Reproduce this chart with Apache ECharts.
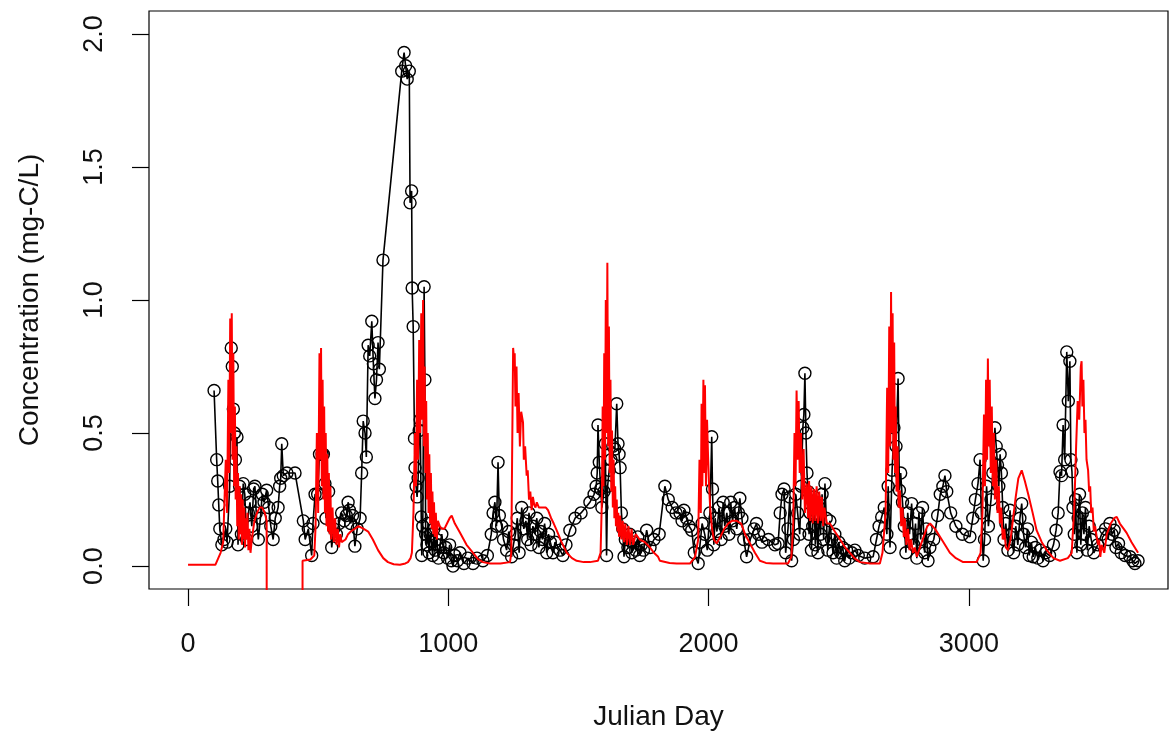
<!DOCTYPE html>
<html lang="en">
<head>
<meta charset="UTF-8">
<title>Concentration</title>
<script src="https://cdn.jsdelivr.net/npm/echarts@6/dist/echarts.min.js"></script>
<style>
  html, body { margin: 0; padding: 0; background: #fff; }
  #container { width: 1171px; height: 734px; }
</style>
</head>
<body>
<div id="container"></div>
<script>
// observed (black circles)
const obsDay = [
  100, 110, 114, 118, 122, 130, 138, 145, 150, 160, 166, 170, 174, 178, 182, 188, 192, 198, 205, 212,
  218, 225, 232, 238, 245, 252, 257, 262, 270, 278, 285, 292, 302, 310, 318, 327, 335, 346, 352, 356,
  360, 366, 380, 411, 443, 450, 462, 475, 480, 488, 498, 505, 515, 520, 526, 530, 540, 552, 560, 570,
  580, 590, 600, 608, 615, 620, 625, 632, 641, 650, 661, 667, 673, 680, 685, 692, 698, 706, 712, 718,
  724, 730, 735, 749, 821, 830, 836, 842, 850, 853, 859, 861, 865, 870, 872, 876, 880, 884, 888, 892,
  896, 898, 902, 907, 910, 913, 918, 922, 926, 930, 935, 940, 945, 950, 955, 962, 968, 975, 982, 990,
  997, 1005, 1012, 1018, 1025, 1035, 1045, 1060, 1075, 1095, 1110, 1133, 1150, 1165, 1172, 1179, 1185, 1191, 1196, 1205,
  1212, 1224, 1232, 1243, 1250, 1258, 1265, 1272, 1282, 1290, 1298, 1305, 1310, 1318, 1325, 1332, 1340, 1348, 1355, 1362,
  1370, 1378, 1385, 1392, 1402, 1410, 1429, 1440, 1452, 1467, 1487, 1510, 1544, 1560, 1568, 1572, 1575, 1580, 1585, 1590,
  1598, 1603, 1608, 1612, 1618, 1625, 1632, 1640, 1647, 1652, 1656, 1660, 1665, 1670, 1675, 1680, 1690, 1697, 1705, 1712,
  1720, 1728, 1735, 1742, 1750, 1762, 1775, 1790, 1810, 1832, 1845, 1860, 1875, 1890, 1898, 1905, 1915, 1925, 1935, 1945,
  1960, 1968, 1975, 1985, 1995, 2005, 2012, 2015, 2020, 2025, 2032, 2040, 2048, 2056, 2062, 2070, 2078, 2085, 2092, 2100,
  2108, 2115, 2120, 2128, 2135, 2146, 2160, 2175, 2184, 2192, 2205, 2230, 2255, 2267, 2275, 2282, 2290, 2296, 2305, 2312,
  2319, 2326, 2335, 2342, 2350, 2356, 2362, 2366, 2370, 2374, 2378, 2382, 2386, 2390, 2395, 2400, 2405, 2410, 2415, 2420,
  2425, 2430, 2436, 2442, 2447, 2452, 2458, 2466, 2472, 2478, 2485, 2492, 2500, 2507, 2515, 2523, 2530, 2540, 2550, 2562,
  2575, 2600, 2632, 2645, 2655, 2665, 2675, 2685, 2690, 2697, 2705, 2712, 2720, 2728, 2733, 2738, 2745, 2752, 2758, 2765,
  2772, 2780, 2788, 2795, 2800, 2808, 2815, 2822, 2830, 2836, 2843, 2850, 2865, 2880, 2890, 2900, 2908, 2915, 2930, 2950,
  2975, 3004, 3015, 3025, 3035, 3043, 3048, 3055, 3060, 3068, 3075, 3085, 3092, 3100, 3105, 3110, 3115, 3120, 3125, 3130,
  3135, 3142, 3150, 3158, 3165, 3172, 3180, 3188, 3196, 3203, 3210, 3218, 3225, 3232, 3240, 3247, 3255, 3265, 3275, 3285,
  3295, 3310, 3325, 3335, 3343, 3350, 3356, 3362, 3368, 3376, 3382, 3388, 3392, 3396, 3400, 3405, 3410, 3415, 3420, 3425,
  3430, 3436, 3442, 3448, 3455, 3462, 3470, 3480, 3495, 3510, 3525, 3535, 3542, 3550, 3558, 3565, 3575, 3585, 3600, 3619,
  3630, 3638, 3650
];
const obsConc = [
  0.66, 0.40, 0.32, 0.23, 0.14, 0.08, 0.10, 0.14, 0.09, 0.30, 0.82, 0.75, 0.59, 0.50, 0.40, 0.485, 0.08, 0.30, 0.12, 0.31,
  0.27, 0.10, 0.20, 0.24, 0.15, 0.29, 0.30, 0.20, 0.10, 0.18, 0.27, 0.24, 0.285, 0.22, 0.15, 0.10, 0.18, 0.22, 0.30, 0.33,
  0.46, 0.34, 0.35, 0.35, 0.17, 0.10, 0.14, 0.04, 0.16, 0.27, 0.27, 0.42, 0.42, 0.42, 0.31, 0.18, 0.28, 0.07, 0.14, 0.12,
  0.16, 0.20, 0.17, 0.19, 0.24, 0.21, 0.16, 0.19, 0.075, 0.14, 0.18, 0.35, 0.545, 0.50, 0.41, 0.83, 0.79, 0.92, 0.76, 0.63,
  0.70, 0.84, 0.74, 1.15, 1.86, 1.93, 1.88, 1.83, 1.86, 1.365, 1.41, 1.045, 0.90, 0.48, 0.37, 0.30, 0.26, 0.33, 0.51, 0.55,
  0.185, 0.04, 0.15, 1.05, 0.70, 0.12, 0.08, 0.16, 0.05, 0.12, 0.09, 0.04, 0.14, 0.06, 0.10, 0.03, 0.08, 0.12, 0.05, 0.07,
  0.03, 0.08, 0.02, 0.00, 0.04, 0.02, 0.05, 0.01, 0.03, 0.01, 0.03, 0.02, 0.04, 0.12, 0.20, 0.24, 0.15, 0.39, 0.19, 0.15,
  0.10, 0.06, 0.13, 0.035, 0.08, 0.12, 0.18, 0.05, 0.22, 0.14, 0.17, 0.10, 0.20, 0.08, 0.15, 0.12, 0.18, 0.07, 0.13, 0.10,
  0.16, 0.05, 0.12, 0.09, 0.05, 0.09, 0.06, 0.04, 0.08, 0.135, 0.18, 0.20, 0.24, 0.27, 0.30, 0.35, 0.53, 0.39, 0.29, 0.22,
  0.28, 0.46, 0.04, 0.30, 0.36, 0.40, 0.45, 0.44, 0.61, 0.46, 0.42, 0.37, 0.20, 0.14, 0.035, 0.10, 0.07, 0.12, 0.05, 0.09,
  0.06, 0.11, 0.04, 0.08, 0.06, 0.135, 0.07, 0.10, 0.12, 0.30, 0.25, 0.22, 0.20, 0.20, 0.17, 0.21, 0.18, 0.15, 0.135, 0.05,
  0.01, 0.09, 0.16, 0.12, 0.06, 0.20, 0.486, 0.29, 0.08, 0.18, 0.13, 0.22, 0.10, 0.24, 0.15, 0.20, 0.12, 0.24, 0.17, 0.22,
  0.14, 0.20, 0.255, 0.18, 0.10, 0.035, 0.10, 0.14, 0.16, 0.12, 0.09, 0.10, 0.08, 0.085, 0.20, 0.27, 0.29, 0.05, 0.14, 0.26,
  0.02, 0.10, 0.27, 0.20, 0.12, 0.30, 0.52, 0.57, 0.725, 0.50, 0.35, 0.28, 0.12, 0.20, 0.06, 0.15, 0.26, 0.08, 0.18, 0.05,
  0.22, 0.12, 0.27, 0.10, 0.31, 0.18, 0.06, 0.17, 0.10, 0.05, 0.12, 0.03, 0.09, 0.05, 0.07, 0.02, 0.06, 0.03, 0.05, 0.06,
  0.04, 0.03, 0.035, 0.10, 0.15, 0.185, 0.22, 0.12, 0.30, 0.07, 0.36, 0.52, 0.45, 0.705, 0.285, 0.35, 0.24, 0.15, 0.05, 0.20,
  0.12, 0.235, 0.08, 0.16, 0.03, 0.20, 0.10, 0.22, 0.05, 0.14, 0.02, 0.07, 0.10, 0.19, 0.27, 0.30, 0.34, 0.28, 0.20, 0.15,
  0.12, 0.11, 0.18, 0.25, 0.31, 0.40, 0.20, 0.02, 0.10, 0.30, 0.15, 0.25, 0.35, 0.52, 0.45, 0.38, 0.30, 0.42, 0.35, 0.22,
  0.10, 0.16, 0.06, 0.21, 0.12, 0.05, 0.15, 0.08, 0.18, 0.235, 0.12, 0.07, 0.14, 0.04, 0.09, 0.035, 0.07, 0.03, 0.06, 0.02,
  0.05, 0.04, 0.08, 0.135, 0.20, 0.355, 0.34, 0.53, 0.40, 0.805, 0.62, 0.77, 0.40, 0.355, 0.22, 0.12, 0.25, 0.05, 0.18, 0.27,
  0.08, 0.20, 0.12, 0.22, 0.06, 0.15, 0.10, 0.05, 0.08, 0.12, 0.14, 0.10, 0.16, 0.12, 0.135, 0.07, 0.085, 0.05, 0.04, 0.035,
  0.02, 0.01, 0.02
];

// modelled (red line); -1 marks the stretch that falls below the plot
const modDay = [
  0, 105, 112, 125, 135, 145, 150, 155, 158, 162, 165, 168, 171, 174, 177, 180, 183, 186, 189, 192,
  195, 198, 201, 204, 207, 210, 213, 216, 219, 222, 225, 228, 232, 236, 240, 245, 255, 265, 275, 285,
  295, 302, 303, 439, 440, 470, 485, 490, 495, 500, 505, 508, 511, 514, 517, 520, 523, 526, 529, 532,
  535, 538, 541, 544, 547, 550, 555, 560, 565, 570, 575, 580, 585, 590, 596, 605, 615, 625, 640, 655,
  661, 675, 692, 710, 730, 750, 768, 790, 814, 835, 845, 855, 860, 866, 872, 876, 880, 884, 888, 892,
  896, 900, 903, 906, 909, 912, 915, 918, 921, 924, 927, 930, 933, 936, 939, 942, 945, 948, 952, 956,
  960, 967, 975, 985, 995, 1005, 1013, 1025, 1045, 1070, 1095, 1115, 1133, 1160, 1200, 1237, 1242, 1245, 1249, 1252,
  1255, 1258, 1262, 1266, 1270, 1275, 1280, 1287, 1290, 1295, 1301, 1305, 1310, 1315, 1320, 1325, 1330, 1335, 1340, 1348,
  1355, 1365, 1375, 1383, 1395, 1405, 1416, 1435, 1455, 1475, 1493, 1520, 1544, 1575, 1585, 1590, 1593, 1596, 1599, 1602,
  1605, 1608, 1611, 1614, 1617, 1620, 1623, 1626, 1629, 1632, 1635, 1638, 1641, 1644, 1647, 1650, 1653, 1656, 1660, 1665,
  1670, 1675, 1680, 1686, 1692, 1698, 1704, 1710, 1720, 1735, 1755, 1775, 1790, 1806, 1813, 1850, 1877, 1929, 1948, 1960,
  1965, 1970, 1973, 1976, 1980, 1983, 1986, 1990, 1994, 1998, 2002, 2006, 2012, 2020, 2031, 2045, 2060, 2075, 2090, 2108,
  2125, 2140, 2159, 2178, 2197, 2220, 2248, 2305, 2318, 2325, 2330, 2334, 2338, 2342, 2346, 2350, 2355, 2360, 2365, 2370,
  2377, 2382, 2386, 2390, 2395, 2400, 2405, 2410, 2415, 2420, 2425, 2430, 2435, 2440, 2445, 2454, 2466, 2485, 2505, 2525,
  2543, 2560, 2582, 2620, 2658, 2668, 2680, 2686, 2690, 2694, 2698, 2701, 2704, 2707, 2710, 2713, 2716, 2719, 2722, 2726,
  2730, 2735, 2740, 2745, 2750, 2754, 2760, 2766, 2772, 2778, 2785, 2792, 2800, 2815, 2830, 2840, 2851, 2870, 2889, 2908,
  2927, 2950, 2978, 3030, 3045, 3052, 3058, 3062, 3066, 3070, 3073, 3076, 3080, 3084, 3088, 3092, 3096, 3100, 3105, 3110,
  3115, 3119, 3124, 3130, 3136, 3142, 3150, 3160, 3170, 3180, 3190, 3203, 3215, 3228, 3245, 3260, 3280, 3299, 3325, 3350,
  3380, 3395, 3405, 3412, 3418, 3424, 3430, 3433, 3436, 3440, 3444, 3448, 3452, 3458, 3462, 3466, 3470, 3475, 3480, 3485,
  3491, 3496, 3500, 3505, 3510, 3520, 3530, 3545, 3558, 3568, 3580, 3595, 3606, 3625, 3650
];
const modConc = [
  0.005, 0.005, 0.01, 0.05, 0.09, 0.40, 0.20, 0.70, 0.35, 0.93, 0.50, 0.95, 0.40, 0.80, 0.30, 0.60, 0.25, 0.45, 0.15, 0.35,
  0.10, 0.30, 0.12, 0.27, 0.08, 0.25, 0.10, 0.22, 0.07, 0.18, 0.10, 0.20, 0.06, 0.14, 0.05, 0.10, 0.17, 0.20, 0.22, 0.22,
  0.20, 0.17, -1, -1, 0.02, 0.025, 0.04, 0.15, 0.50, 0.20, 0.80, 0.40, 0.82, 0.30, 0.70, 0.25, 0.60, 0.20, 0.50, 0.15,
  0.42, 0.13, 0.35, 0.12, 0.30, 0.10, 0.22, 0.09, 0.18, 0.08, 0.14, 0.07, 0.12, 0.09, 0.085, 0.10, 0.12, 0.13, 0.14, 0.15,
  0.15, 0.14, 0.13, 0.10, 0.06, 0.03, 0.015, 0.007, 0.005, 0.01, 0.015, 0.03, 0.05, 0.20, 0.50, 0.30, 0.70, 0.40, 0.85, 0.50,
  0.95, 0.55, 1.00, 0.45, 0.75, 0.35, 0.62, 0.25, 0.50, 0.20, 0.42, 0.16, 0.35, 0.14, 0.28, 0.12, 0.24, 0.11, 0.20, 0.10,
  0.17, 0.15, 0.14, 0.14, 0.16, 0.18, 0.19, 0.16, 0.125, 0.08, 0.05, 0.025, 0.015, 0.01, 0.01, 0.015, 0.05, 0.40, 0.82, 0.78,
  0.80, 0.60, 0.75, 0.50, 0.65, 0.45, 0.58, 0.54, 0.40, 0.45, 0.34, 0.36, 0.25, 0.28, 0.21, 0.26, 0.23, 0.22, 0.24, 0.22,
  0.22, 0.22, 0.22, 0.21, 0.18, 0.16, 0.135, 0.09, 0.05, 0.03, 0.02, 0.015, 0.015, 0.02, 0.05, 0.25, 0.60, 0.30, 0.80, 0.40,
  1.00, 0.50, 1.14, 0.45, 0.90, 0.35, 0.70, 0.28, 0.51, 0.22, 0.40, 0.18, 0.30, 0.15, 0.25, 0.13, 0.20, 0.11, 0.19, 0.10,
  0.17, 0.09, 0.16, 0.08, 0.15, 0.08, 0.14, 0.08, 0.12, 0.10, 0.09, 0.07, 0.05, 0.035, 0.02, 0.012, 0.01, 0.01, 0.035, 0.10,
  0.40, 0.20, 0.61, 0.30, 0.70, 0.35, 0.68, 0.30, 0.55, 0.41, 0.30, 0.22, 0.15, 0.10, 0.085, 0.11, 0.14, 0.16, 0.17, 0.17,
  0.16, 0.12, 0.085, 0.05, 0.02, 0.012, 0.01, 0.01, 0.035, 0.15, 0.50, 0.30, 0.66, 0.40, 0.62, 0.35, 0.50, 0.25, 0.44, 0.20,
  0.31, 0.18, 0.32, 0.17, 0.30, 0.16, 0.29, 0.17, 0.30, 0.16, 0.28, 0.17, 0.26, 0.15, 0.22, 0.16, 0.16, 0.13, 0.10, 0.07,
  0.05, 0.03, 0.015, 0.01, 0.01, 0.05, 0.20, 0.67, 0.35, 0.90, 0.45, 1.03, 0.50, 0.95, 0.40, 0.84, 0.35, 0.60, 0.28, 0.45,
  0.22, 0.285, 0.15, 0.22, 0.11, 0.18, 0.08, 0.14, 0.06, 0.10, 0.05, 0.07, 0.035, 0.08, 0.12, 0.15, 0.16, 0.14, 0.11, 0.08,
  0.05, 0.03, 0.015, 0.015, 0.05, 0.20, 0.57, 0.30, 0.70, 0.40, 0.78, 0.45, 0.70, 0.35, 0.60, 0.30, 0.50, 0.25, 0.40, 0.20,
  0.30, 0.16, 0.22, 0.10, 0.14, 0.07, 0.06, 0.10, 0.18, 0.26, 0.33, 0.36, 0.32, 0.27, 0.20, 0.135, 0.09, 0.06, 0.03, 0.02,
  0.03, 0.05, 0.22, 0.45, 0.62, 0.55, 0.75, 0.77, 0.60, 0.70, 0.50, 0.55, 0.40, 0.36, 0.28, 0.30, 0.20, 0.22, 0.13, 0.15,
  0.11, 0.08, 0.10, 0.035, 0.08, 0.05, 0.12, 0.16, 0.18, 0.185, 0.16, 0.14, 0.125, 0.09, 0.05
];

const xTicks = [0, 1000, 2000, 3000];
const yTicks = [0, 0.5, 1.0, 1.5, 2.0];

const zip = (a, b) => a.map((v, i) => [v, b[i]]);
const font = '"Liberation Sans", Arial, sans-serif';

const chart = echarts.init(document.getElementById('container'), null, { renderer: 'canvas' });
chart.setOption({
  animation: false,
  backgroundColor: '#fff',
  grid: {
    left: 149, right: 3, top: 11, bottom: 145,
    containLabel: false, outerBoundsMode: 'none',
    show: true, borderColor: '#000', borderWidth: 1.2
  },
  xAxis: {
    type: 'value', min: -150, max: 3765,
    name: 'Julian Day', nameLocation: 'middle', nameGap: 114,
    nameTextStyle: { fontFamily: font, fontSize: 28, color: '#111' },
    axisLine: { show: false, onZero: false },
    axisTick: { show: true, length: 17, customValues: xTicks, lineStyle: { color: '#000', width: 1.2 } },
    axisLabel: {
      customValues: xTicks, margin: 42, fontFamily: font, fontSize: 27, color: '#111',
      formatter: v => String(v)
    },
    splitLine: { show: false }
  },
  yAxis: {
    type: 'value', min: -0.086, max: 2.086,
    name: 'Concentration (mg-C/L)', nameLocation: 'middle', nameGap: 105, nameRotate: 90,
    nameTextStyle: { fontFamily: font, fontSize: 28, color: '#111' },
    axisLine: { show: false, onZero: false },
    axisTick: { show: true, length: 17, customValues: yTicks, lineStyle: { color: '#000', width: 1.2 } },
    axisLabel: {
      customValues: yTicks, rotate: 90, margin: 41,
      fontFamily: font, fontSize: 27, color: '#111',
      formatter: v => v.toFixed(1)
    },
    splitLine: { show: false }
  },
  series: [
    {
      name: 'observed', type: 'line', data: zip(obsDay, obsConc),
      symbol: 'circle', symbolSize: 12, showAllSymbol: true,
      itemStyle: { color: 'rgba(0,0,0,0)', borderColor: '#000', borderWidth: 1.4 },
      lineStyle: { color: '#000', width: 1.6 },
      z: 2
    },
    {
      name: 'model', type: 'line', data: zip(modDay, modConc),
      symbol: 'none', clip: true,
      lineStyle: { color: '#ff0000', width: 2 },
      z: 3
    }
  ]
});
</script>
</body>
</html>
